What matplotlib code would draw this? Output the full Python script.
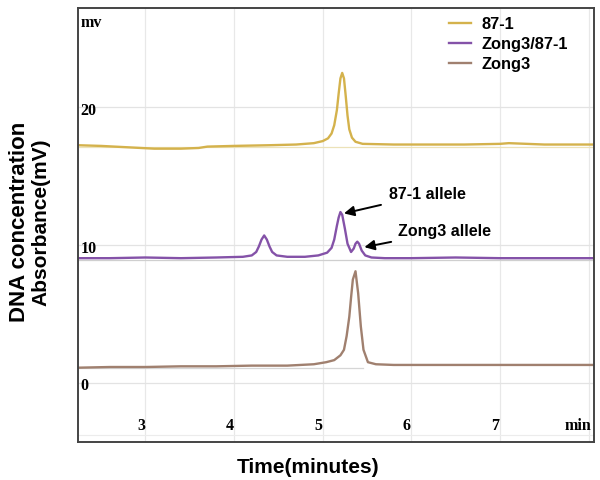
import matplotlib
matplotlib.use("Agg")
import matplotlib.pyplot as plt
import matplotlib.transforms as mtransforms

plt.rcParams["font.family"] = ["Liberation Sans", "DejaVu Sans"]

# traces (time in min, signal in mV)
t_871 = [2.24, 2.5, 2.8, 3.1, 3.4, 3.6, 3.7, 4.0, 4.4, 4.7, 4.9, 5.0, 5.06, 5.10,
         5.13, 5.16, 5.18, 5.20, 5.22, 5.24, 5.26, 5.28, 5.30, 5.33, 5.37, 5.45,
         5.8, 6.2, 6.6, 7.0, 7.1, 7.5, 8.06]
y_871 = [17.25, 17.2, 17.1, 17.0, 17.0, 17.05, 17.15, 17.2, 17.25, 17.3, 17.4, 17.55, 17.75, 18.1,
         18.7, 19.8, 21.0, 22.1, 22.5, 22.1, 20.8, 19.4, 18.4, 17.8, 17.5, 17.35,
         17.3, 17.3, 17.3, 17.35, 17.4, 17.3, 17.3]

t_het = [2.24, 2.6, 3.0, 3.4, 3.8, 4.1, 4.2, 4.25, 4.28, 4.31, 4.34, 4.37, 4.40, 4.43,
         4.48, 4.6, 4.8, 4.95, 5.05, 5.10, 5.13, 5.16, 5.18, 5.20, 5.22, 5.25, 5.28,
         5.32, 5.35, 5.37, 5.39, 5.41, 5.44, 5.48, 5.55, 5.7, 6.0, 6.5, 7.0, 7.5, 8.06]
y_het = [9.05, 9.05, 9.1, 9.05, 9.1, 9.15, 9.25, 9.5, 9.9, 10.4, 10.7, 10.4, 9.9, 9.5,
         9.25, 9.15, 9.15, 9.25, 9.45, 9.8, 10.4, 11.4, 12.0, 12.4, 12.2, 11.2, 10.1,
         9.5, 9.75, 10.1, 10.25, 10.1, 9.6, 9.25, 9.1, 9.05, 9.05, 9.1, 9.05, 9.05, 9.05]

t_z3 = [2.24, 2.6, 3.0, 3.4, 3.8, 4.2, 4.6, 4.9, 5.04, 5.13, 5.20, 5.24, 5.27, 5.30,
        5.32, 5.34, 5.37, 5.40, 5.43, 5.46, 5.51, 5.60, 5.8, 6.2, 6.6, 7.0, 7.5, 8.06]
y_z3 = [1.1, 1.15, 1.15, 1.2, 1.2, 1.25, 1.25, 1.35, 1.5, 1.65, 2.0, 2.4, 3.4, 4.8,
        6.2, 7.5, 8.1, 6.5, 4.1, 2.4, 1.5, 1.35, 1.3, 1.3, 1.3, 1.3, 1.3, 1.3]

names = ["87-1", "Zong3/87-1", "Zong3"]
colors = ["#d4b24c", "#8452a8", "#a0806f"]
xticks = [3, 4, 5, 6, 7]
yticks = [0, 10, 20]

fig = plt.figure(figsize=(6, 4.8), dpi=100)
ax = fig.add_axes([0.13, 0.079, 0.86, 0.904])

# faint grid and baselines
for xv in xticks + [8]:
    ax.axvline(xv, color="#e8e8e8", lw=0.9, zorder=0)
for yv in yticks:
    ax.axhline(yv, color="#e3e3e3", lw=0.9, zorder=0)
ax.axhline(-3.77, color="#ececec", lw=0.8, zorder=0)
ax.axhline(17.15, color="#ece2b8", lw=0.9, zorder=1)
ax.axhline(8.95, color="#cfcfcf", lw=0.9, zorder=1)
ax.plot([2.24, 5.45], [1.05, 1.05], color="#d6d6d6", lw=0.9, zorder=1)

ax.plot(t_871, y_871, color=colors[0], lw=1.7, label=names[0])
ax.plot(t_het, y_het, color=colors[1], lw=1.7, label=names[1])
ax.plot(t_z3, y_z3, color=colors[2], lw=1.7, label=names[2])

ax.set_xlim(2.24, 8.06)
ax.set_ylim(-4.3, 27.2)
ax.set_xticks([])
ax.set_yticks([])
for s in ax.spines.values():
    s.set_color("#444444")
    s.set_linewidth(1.4)

serif = dict(family="Liberation Serif", fontweight="bold", fontsize=11.5)
ty = mtransforms.blended_transform_factory(ax.transAxes, ax.transData)
for yv in yticks:
    ax.text(0.005, yv - 0.25, str(yv), transform=ty, ha="left", va="center", **serif)
ax.text(0.005, 0.985, "mv", transform=ax.transAxes, ha="left", va="top", **serif)
tx = mtransforms.blended_transform_factory(ax.transData, ax.transAxes)
for xv in xticks:
    ax.text(xv - 0.05, 0.018, str(xv), transform=tx, ha="center", va="bottom", **serif)
ax.text(0.995, 0.018, "min", transform=ax.transAxes, ha="right", va="bottom", **serif)

leg = ax.legend(loc="upper right", bbox_to_anchor=(0.95, 0.98), frameon=False,
                borderpad=0, borderaxespad=0,
                handlelength=1.35, handletextpad=0.65, labelspacing=0.3,
                prop=dict(weight="bold", size=11.8))

ax.annotate("87-1 allele", xy=(5.24, 12.3), xytext=(5.75, 13.7),
            fontsize=11.5, fontweight="bold", va="center", ha="left",
            arrowprops=dict(arrowstyle="-|>", color="black", lw=1.4,
                            mutation_scale=15, shrinkA=4, shrinkB=0))
ax.annotate("Zong3 allele", xy=(5.47, 9.85), xytext=(5.85, 11.0),
            fontsize=11.5, fontweight="bold", va="center", ha="left",
            arrowprops=dict(arrowstyle="-|>", color="black", lw=1.4,
                            mutation_scale=15, shrinkA=3, shrinkB=0))

fig.text(0.033, 0.537, "DNA concentration", rotation=90, ha="center", va="center",
         fontsize=16, fontweight="bold")
fig.text(0.069, 0.537, "Absorbance(mV)", rotation=90, ha="center", va="center",
         fontsize=15, fontweight="bold")
fig.text(0.513, 0.027, "Time(minutes)", ha="center", va="center",
         fontsize=15, fontweight="bold")

fig.savefig("out.png", dpi=100)
